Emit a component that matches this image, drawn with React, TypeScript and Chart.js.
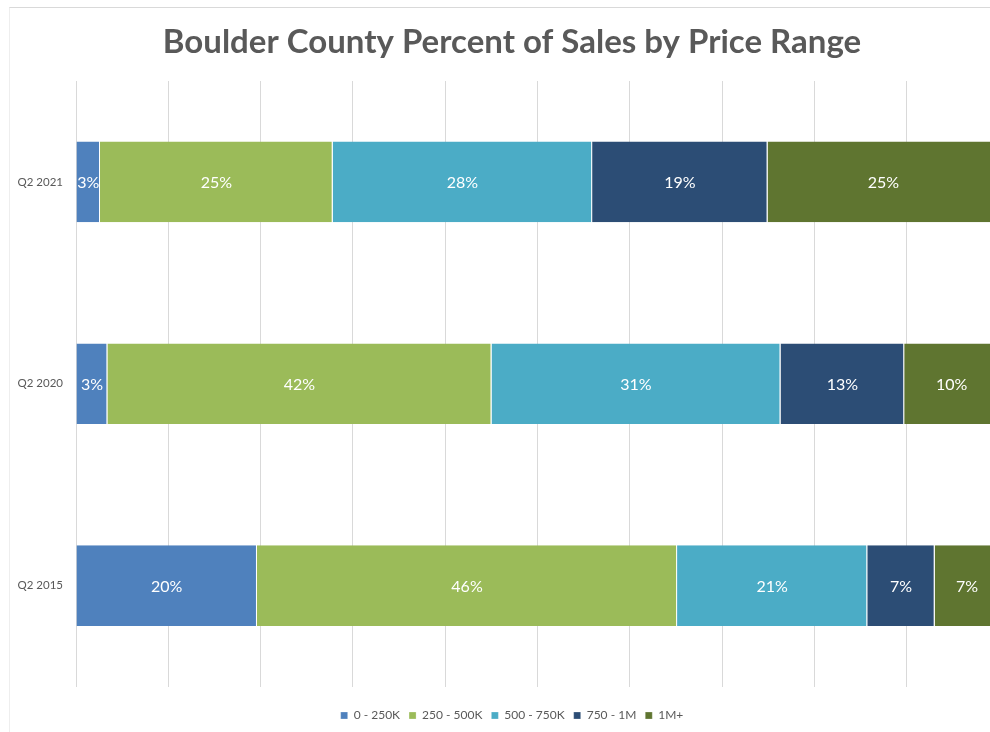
import React, { useEffect, useRef } from "react";
import { Chart, registerables } from "chart.js";

Chart.register(...registerables);

const categories = ["Q2 2021", "Q2 2020", "Q2 2015"];
const seriesNames = ["0 - 250K", "250 - 500K", "500 - 750K", "750 - 1M", "1M+"];
const range0to250 = [2.6, 3.4, 19.6];
const range250to500 = [25.2, 41.6, 45.5];
const range500to750 = [28.1, 31.3, 20.6];
const range750to1m = [19.0, 13.4, 7.3];
const range1mPlus = [25.1, 10.3, 7.0];
const seriesColors = ["#4F81BD", "#9BBB59", "#4BACC6", "#2C4D75", "#5F7530"];

const FONT = "Lato, 'Open Sans', sans-serif";
const W = 1004;
const H = 724;

const dataLabels = {
  id: "dataLabels",
  afterDatasetsDraw(chart: any) {
    const ctx = chart.ctx;
    ctx.save();
    ctx.font = `16px ${FONT}`;
    ctx.fillStyle = "#ffffff";
    ctx.textAlign = "center";
    ctx.textBaseline = "middle";
    chart.data.datasets.forEach((ds: any, di: number) => {
      const meta = chart.getDatasetMeta(di);
      meta.data.forEach((bar: any, i: number) => {
        const v = ds.data[i];
        const cx = (bar.x + bar.base) / 2;
        ctx.fillText(Math.round(v) + "%", cx, bar.y + 1);
      });
    });
    ctx.restore();
  },
};

export default function App() {
  const ref = useRef<HTMLCanvasElement>(null);
  useEffect(() => {
    const all = [range0to250, range250to500, range500to750, range750to1m, range1mPlus];
    const chart = new Chart(ref.current!, {
      type: "bar",
      data: {
        labels: categories,
        datasets: all.map((d, i) => ({
          label: seriesNames[i],
          data: d,
          backgroundColor: seriesColors[i],
          borderColor: "#ffffff",
          borderWidth: { left: 0, right: 1, top: 0, bottom: 0 },
          borderSkipped: false,
          categoryPercentage: 1,
          barPercentage: 0.4,
        })),
      },
      options: {
        indexAxis: "y",
        animation: false,
        responsive: false,
        layout: { padding: { left: 0, right: 0, top: 0, bottom: 0.5 } },
        scales: {
          x: {
            stacked: true,
            min: 0,
            max: 100 * (W - 66) / 923.3,
            ticks: { display: false, stepSize: 10 },
            grid: { color: "#d9d9d9", drawTicks: false, lineWidth: 1 },
            border: { display: false },
            afterFit: (s: any) => {
              s.height = 14;
            },
          },
          y: {
            stacked: true,
            grid: { display: false, drawTicks: false },
            border: { display: false },
            ticks: { color: "#595959", font: { family: FONT, size: 11.5 }, padding: 13 },
            afterFit: (s: any) => {
              s.width = 66;
            },
          },
        },
        plugins: {
          title: {
            display: true,
            text: "Boulder County Percent of Sales by Price Range",
            color: "#595959",
            font: { family: FONT, size: 33, weight: "bold" },
            padding: { top: 15, bottom: 18.4 },
          },
          legend: {
            position: "bottom",
            labels: {
              boxWidth: 7,
              boxHeight: 7,
              padding: 9,
              color: "#595959",
              font: { family: FONT, size: 12 },
            },
          },
          tooltip: { enabled: false },
        },
      },
      plugins: [dataLabels],
    });
    return () => chart.destroy();
  }, []);
  return (
    <div
      style={{
        position: "fixed",
        left: 9,
        top: 7,
        borderTop: "1px solid #d9d9d9",
        borderLeft: "1px solid #eeeeee",
        background: "#ffffff",
      }}
    >
      <canvas ref={ref} width={W} height={H} style={{ display: "block", width: W, height: H }} />
    </div>
  );
}
